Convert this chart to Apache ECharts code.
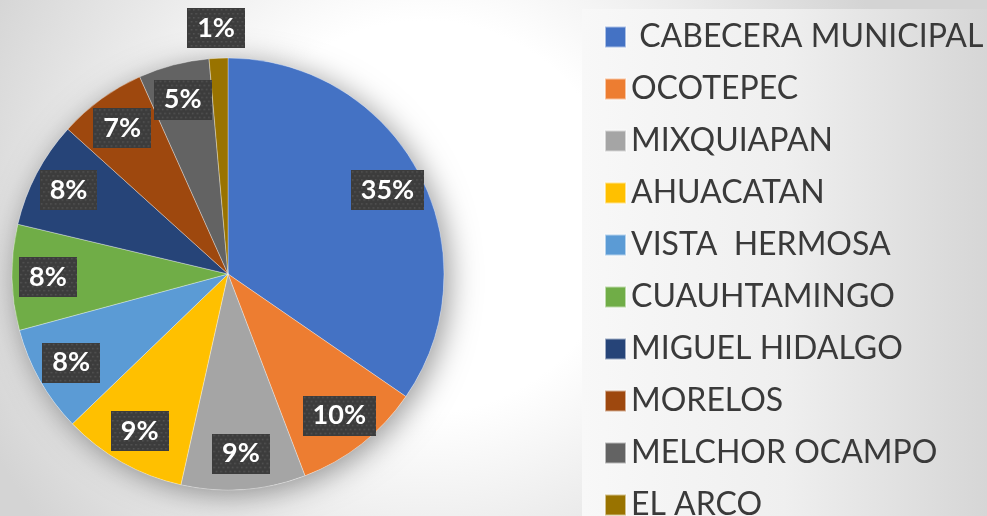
<!DOCTYPE html>
<html>
<head>
<meta charset="utf-8">
<script src="https://cdn.jsdelivr.net/npm/echarts@6/dist/echarts.min.js"></script>
<style>
  html, body { margin: 0; padding: 0; }
  #chart { width: 987px; height: 516px; }
</style>
</head>
<body>
<div id="chart"></div>
<script>
// localidades y su participación (%)
const categories = [' CABECERA MUNICIPAL', 'OCOTEPEC', 'MIXQUIAPAN', 'AHUACATAN', 'VISTA  HERMOSA',
  'CUAUHTAMINGO', 'MIGUEL HIDALGO', 'MORELOS', 'MELCHOR OCAMPO', 'EL ARCO']
const values = [34.6, 9.6, 9.3, 9.3, 8.0, 7.9, 8.0, 6.6, 5.3, 1.4]
const colors = ['#4472C4', '#ED7D31', '#A5A5A5', '#FFC000', '#5B9BD5',
  '#70AD47', '#264478', '#9E480E', '#636363', '#997300']

const font = 'Lato, Carlito, Calibri, sans-serif'
const center = [228, 274]
const radius = 216

// dotted dark tile used behind the percentage labels
const makeTile = (w, h) => {
  const c = document.createElement('canvas')
  c.width = w
  c.height = h
  const g = c.getContext('2d')
  g.fillStyle = '#3c3c3c'
  g.fillRect(0, 0, w, h)
  g.fillStyle = '#555555'
  for (let row = 0, y = 1; y < h; row++, y += 4) {
    for (let x = 1 + (row % 2) * 2; x < w; x += 4) g.fillRect(x, y, 1.5, 1.5)
  }
  return c
}
const wideTile = makeTile(64, 40)
const narrowTile = makeTile(50, 40)

const total = values.reduce((a, b) => a + b, 0)
const pctText = (v) => Math.round((v / total) * 100) + '%'

const chart = echarts.init(document.getElementById('chart'))
chart.setOption({
  backgroundColor: {
    type: 'radial', x: 0.43, y: 0.42, r: 0.95,
    colorStops: [
      { offset: 0, color: '#ffffff' },
      { offset: 0.4, color: '#ffffff' },
      { offset: 1, color: '#d4d4d4' },
    ],
  },
  animation: false,
  graphic: [
    {
      type: 'rect',
      z: 0,
      shape: { x: 582, y: 9, width: 405, height: 507 },
      style: {
        fill: {
          type: 'linear', x: 0, y: 0, x2: 1, y2: 0,
          colorStops: [
            { offset: 0, color: '#f8f8f8' },
            { offset: 0.5, color: '#efefef' },
            { offset: 1, color: '#d6d6d6' },
          ],
        },
      },
    },
  ],
  legend: {
    orient: 'vertical',
    left: 599,
    top: 16,
    height: 510,
    icon: 'rect',
    itemWidth: 21,
    itemHeight: 21,
    itemGap: 20,
    selectedMode: false,
    data: categories,
    textStyle: { fontFamily: font, fontSize: 32, color: '#3a3a3a' },
  },
  series: [
    {
      // soft shadow behind the whole pie
      type: 'pie',
      name: 'sombra',
      center, radius,
      silent: true,
      label: { show: false },
      itemStyle: { color: '#ffffff', shadowBlur: 30, shadowColor: 'rgba(0,0,0,0.4)', shadowOffsetX: 5, shadowOffsetY: 5 },
      data: [{ name: '', value: total }],
    },
    {
      type: 'pie',
      name: 'Localidades',
      center, radius,
      startAngle: 90,
      clockwise: true,
      silent: true,
      label: { show: false },
      labelLine: { show: false },
      itemStyle: { borderColor: 'rgba(255,255,255,0.55)', borderWidth: 0.6 },
      data: categories.map((name, i) => ({ name, value: values[i], itemStyle: { color: colors[i] } })),
    },
    {
      // transparent ring that only carries the percentage labels
      type: 'pie',
      name: 'etiquetas',
      center,
      radius: [radius * 0.64, radius],
      startAngle: 90,
      clockwise: true,
      silent: true,
      legendHoverLink: false,
      itemStyle: { color: 'rgba(0,0,0,0)' },
      labelLine: { show: false },
      label: {
        show: true,
        position: 'inside',
        fontFamily: font,
        fontWeight: 'bold',
        fontSize: 27,
        lineHeight: 24,
        color: '#ffffff',
        padding: [8, 10, 8, 10],
        shadowColor: 'rgba(0,0,0,0.55)',
        shadowBlur: 6,
        shadowOffsetX: 3,
        shadowOffsetY: 3,
      },
      labelLayout: (params) => (values[params.dataIndex] / total < 0.03 ? { dx: -4, dy: -66 } : {}),
      data: categories.map((name, i) => ({
        name,
        value: values[i],
        label: {
          formatter: pctText(values[i]),
          backgroundColor: { image: pctText(values[i]).length > 2 ? wideTile : narrowTile },
        },
      })),
    },
  ],
})
</script>
</body>
</html>
